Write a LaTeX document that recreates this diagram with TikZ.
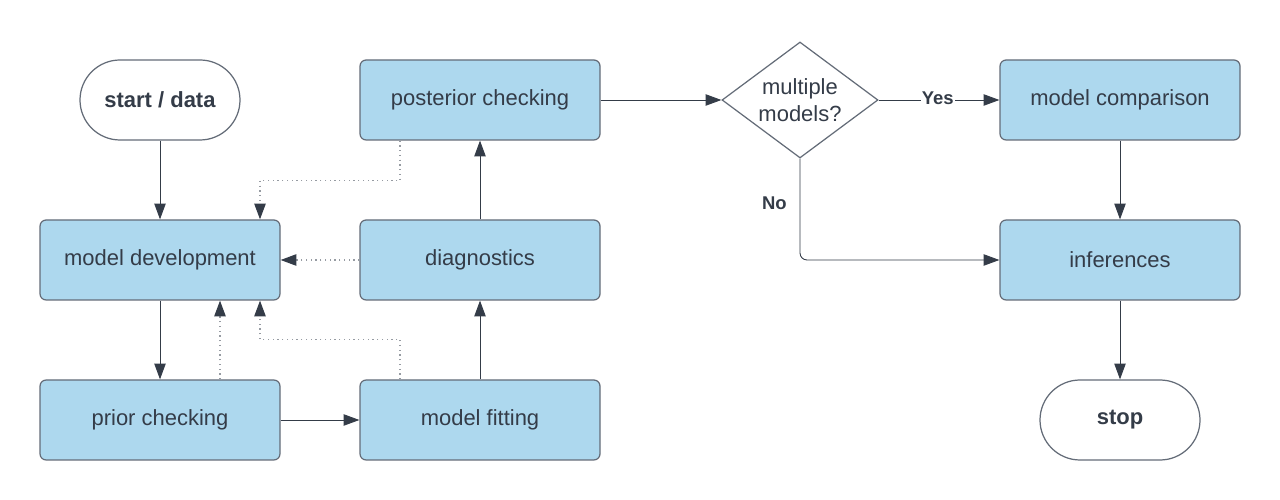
\documentclass[tikz,border=0pt]{standalone}
\usepackage{fontspec}
\setmainfont{Liberation Sans}
\usepackage{xcolor}
\usepackage{tikz}
\usetikzlibrary{arrows.meta, positioning, calc, shapes.geometric}
\definecolor{BoxBlue}{RGB}{173, 216, 238}
\definecolor{BoxEdge}{RGB}{100, 108, 120}
\definecolor{DarkText}{RGB}{52, 60, 72}
\definecolor{DotGray}{RGB}{150, 155, 162}

\begin{document}
\begin{tikzpicture}[
    every node/.style={text=DarkText, font=\fontsize{12.5}{15}\selectfont},
    procbox/.style={draw=BoxEdge, fill=BoxBlue, rounded corners=3.5pt, line width=0.7pt,
                    minimum width=4.8cm, minimum height=1.6cm, align=center},
    termbox/.style={draw=BoxEdge, fill=white, rounded corners=0.8cm, line width=0.7pt,
                    minimum width=3.2cm, minimum height=1.6cm, font=\fontsize{12.5}{15}\selectfont\bfseries},
    decbox/.style={draw=BoxEdge, fill=white, diamond, aspect=1.34, inner sep=0pt, line width=0.7pt,
                   minimum width=3.12cm, minimum height=2.32cm, align=center},
    flow/.style={draw=DarkText, line width=0.5pt, -{Triangle[length=9pt, width=6.5pt]}},
    loopback/.style={draw=DotGray, dotted, line width=0.7pt, -{Triangle[length=9pt, width=6.5pt, color=DarkText, fill=DarkText]}},
    edgelabel/.style={font=\fontsize{10.5}{12}\selectfont\bfseries}
  ]
  \useasboundingbox (0,0) rectangle (25.6,-10);

  % left column and middle column
  \node[termbox] (start) at (3.2,-2) {start / data};
  \node[procbox] (modeldev) at (3.2,-5.2) {model development};
  \node[procbox] (prior) at (3.2,-8.4) {prior checking};
  \node[procbox] (fitting) at (9.6,-8.4) {model fitting};
  \node[procbox] (diagnostics) at (9.6,-5.2) {diagnostics};
  \node[procbox] (posterior) at (9.6,-2) {posterior checking};

  % decision and right column
  \node[decbox] (multiple) at (16,-2) {multiple\\models?};
  \node[procbox] (comparison) at (22.4,-2) {model comparison};
  \node[procbox] (inferences) at (22.4,-5.2) {inferences};
  \node[termbox] (stop) at (22.4,-8.4) {stop};

  % main flow
  \draw[flow] (start) -- (modeldev);
  \draw[flow] (modeldev) -- (prior);
  \draw[flow] (prior) -- (fitting);
  \draw[flow] (fitting) -- (diagnostics);
  \draw[flow] (diagnostics) -- (posterior);
  \draw[flow] (posterior) -- (multiple);
  \draw[flow] (multiple) -- node[edgelabel, fill=white, inner sep=0.5pt, pos=0.49, yshift=1pt] (yes) {Yes} (comparison);
  \draw[flow, rounded corners=4pt] (multiple.south) |- node[edgelabel, anchor=east, pos=0.22, xshift=-4pt] (no) {No} (inferences.west);
  \draw[flow] (comparison) -- (inferences);
  \draw[flow] (inferences) -- (stop);

  % dotted loops back to model development
  \draw[loopback] ([xshift=-1.6cm]posterior.south) -- ++(0,-0.8) -| ([xshift=2cm]modeldev.north);
  \draw[loopback] (diagnostics.west) -- (modeldev.east);
  \draw[loopback] ([xshift=1.2cm]prior.north) -- ([xshift=1.2cm]modeldev.south);
  \draw[loopback] ([xshift=-1.6cm]fitting.north) -- ++(0,0.8) -| ([xshift=2cm]modeldev.south);
\end{tikzpicture}
\end{document}
